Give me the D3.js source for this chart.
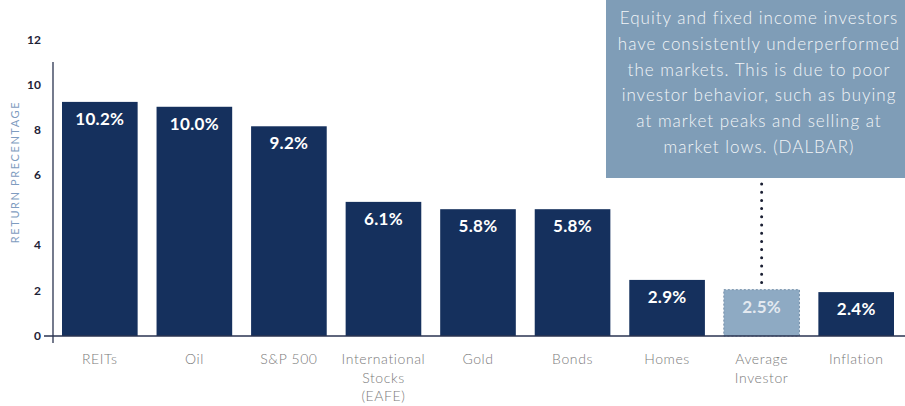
<!DOCTYPE html>
<html>
<head>
<meta charset="utf-8">
<script src="https://cdn.jsdelivr.net/npm/d3@7"></script>
<style>
  html, body { margin: 0; padding: 0; background: #ffffff; }
  svg { display: block; }
</style>
</head>
<body>
<svg id="chart" width="905" height="406"></svg>
<script>
// ---- data ----
const categories = [
  ["REITs"], ["Oil"], ["S&P 500"], ["International", "Stocks", "(EAFE)"],
  ["Gold"], ["Bonds"], ["Homes"], ["Average", "Investor"], ["Inflation"]
];
const values = [10.2, 10.0, 9.2, 6.1, 5.8, 5.8, 2.9, 2.5, 2.4];
const highlighted = [false, false, false, false, false, false, false, true, false];
const tickValues = [0, 2, 4, 6, 8, 10, 12];
const axisTitle = "RETURN PRECENTAGE";
const noteLines = [
  "Equity and fixed income investors",
  "have consistently underperformed",
  "the markets. This is due to poor",
  "investor behavior, such as buying",
  "at market peaks and selling at",
  "market lows. (DALBAR)"
];

// ---- layout ----
const svg = d3.select("#chart");
const baseY = 336;
const keys = categories.map((c, i) => i);

const x = d3.scaleBand().domain(keys).range([62, 894]).paddingInner(0.2).paddingOuter(0);
// bar scale (as measured from the printed bars)
const y = d3.scaleLinear().domain([0.6, 12]).range([baseY, 58]);
// printed axis labels are unevenly placed in the original
const yAxisScale = d3.scaleLinear().domain([0, 4, 6, 12]).range([baseY, 245, 175, 40]);

const navy = "#15305d";
const lightBlue = "#8eaac3";
const font = "Lato, 'Open Sans', sans-serif";

// annotation box
svg.append("rect")
  .attr("x", 606).attr("y", -2).attr("width", 320).attr("height", 180)
  .attr("fill", "#7f9db7");

const note = svg.append("text")
  .attr("font-family", font)
  .attr("font-weight", 300)
  .attr("font-size", 17)
  .attr("letter-spacing", 1.0)
  .attr("fill", "#f2f5f8")
  .attr("text-anchor", "middle");
noteLines.forEach((t, i) => {
  note.append("tspan").attr("x", 759).attr("y", 24 + i * 25.8).text(t);
});

// bars
svg.selectAll("rect.bar")
  .data(values)
  .join("rect")
  .attr("class", "bar")
  .attr("x", (d, i) => x(i))
  .attr("y", d => y(d))
  .attr("width", x.bandwidth())
  .attr("height", d => baseY - y(d))
  .attr("fill", (d, i) => highlighted[i] ? lightBlue : navy)
  .attr("stroke", (d, i) => highlighted[i] ? "#7791aa" : "none")
  .attr("stroke-dasharray", "2,2")
  .attr("stroke-width", 1);

// value labels
svg.selectAll("text.val")
  .data(values)
  .join("text")
  .attr("class", "val")
  .attr("x", (d, i) => x(i) + x.bandwidth() / 2)
  .attr("y", d => y(d) + 23)
  .attr("text-anchor", "middle")
  .attr("font-family", font)
  .attr("font-weight", 700)
  .attr("font-size", 17)
  .attr("letter-spacing", 0.3)
  .attr("fill", (d, i) => highlighted[i] ? "#e3e9f0" : "#ffffff")
  .text(d => d.toFixed(1) + "%");

// dotted connector from note to highlighted bar
const hi = highlighted.indexOf(true);
svg.append("line")
  .attr("x1", x(hi) + x.bandwidth() / 2).attr("x2", x(hi) + x.bandwidth() / 2)
  .attr("y1", 184).attr("y2", y(values[hi]) - 3)
  .attr("stroke", "#1a1f33")
  .attr("stroke-width", 3)
  .attr("stroke-linecap", "round")
  .attr("stroke-dasharray", "0,8.2");

// baseline
svg.append("line")
  .attr("x1", 44).attr("x2", 905).attr("y1", baseY).attr("y2", baseY)
  .attr("stroke", "#2a3350").attr("stroke-width", 1.3);

// y axis
const yAxis = d3.axisLeft(yAxisScale).tickValues(tickValues).tickSize(0).tickPadding(12);
const gy = svg.append("g").attr("transform", "translate(53,0)").call(yAxis);
gy.select(".domain").remove();
gy.selectAll("text")
  .attr("font-family", font)
  .attr("font-weight", 700)
  .attr("font-size", 12)
  .attr("fill", "#1e2236");
svg.append("line")
  .attr("x1", 53).attr("x2", 53).attr("y1", 62).attr("y2", 343)
  .attr("stroke", "#2a3350").attr("stroke-width", 1.3);

// axis title
svg.append("text")
  .attr("transform", "translate(19,172) rotate(-90)")
  .attr("text-anchor", "middle")
  .attr("font-family", font)
  .attr("font-weight", 400)
  .attr("font-size", 11)
  .attr("letter-spacing", 1.6)
  .attr("fill", "#7f9cc0")
  .text(axisTitle);

// category labels
const cat = svg.selectAll("text.cat")
  .data(categories)
  .join("text")
  .attr("class", "cat")
  .attr("text-anchor", "middle")
  .attr("font-family", font)
  .attr("font-weight", 300)
  .attr("font-size", 14)
  .attr("letter-spacing", 0.6)
  .attr("fill", "#7a7a7a");
cat.each(function(lines, i) {
  const t = d3.select(this);
  lines.forEach((l, j) => {
    t.append("tspan")
      .attr("x", x(i) + x.bandwidth() / 2)
      .attr("y", 364 + j * 18.5)
      .text(l);
  });
});
</script>
</body>
</html>
